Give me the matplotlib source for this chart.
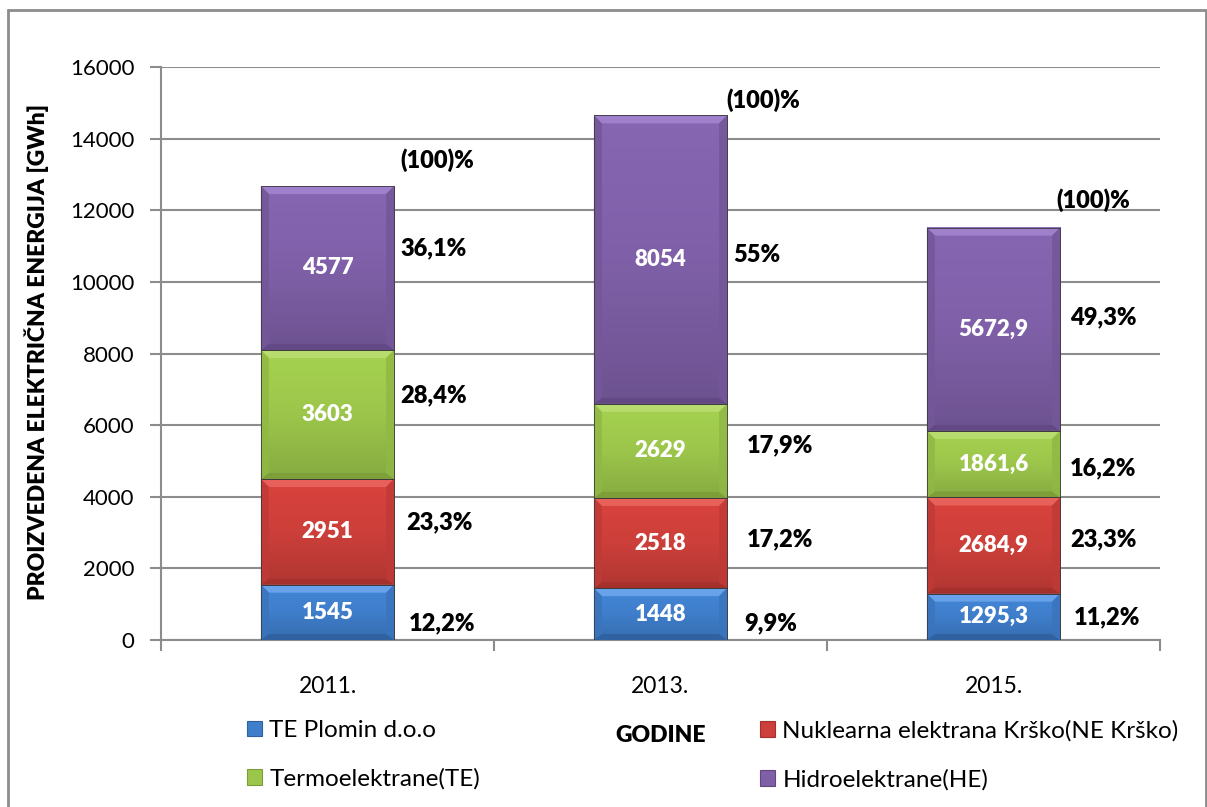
import matplotlib
matplotlib.use("Agg")
import matplotlib.pyplot as plt
from matplotlib.patches import Patch, Rectangle, Polygon
from matplotlib.colors import LinearSegmentedColormap, to_rgb
import numpy as np

plt.rcParams['font.family'] = ['Lato', 'DejaVu Sans']

# ---- data ----
years = ["2011.", "2013.", "2015."]
series_names = ["TE Plomin d.o.o", "Nuklearna elektrana Krško(NE Krško)",
                "Termoelektrane(TE)", "Hidroelektrane(HE)"]
te_plomin = [1545, 1448, 1295.3]
ne_krsko = [2951, 2518, 2684.9]
termo = [3603, 2629, 1861.6]
hidro = [4577, 8054, 5672.9]
value_labels = [["1545", "1448", "1295,3"],
                ["2951", "2518", "2684,9"],
                ["3603", "2629", "1861,6"],
                ["4577", "8054", "5672,9"]]
pct_labels = [["12,2%", "9,9%", "11,2%"],
              ["23,3%", "17,2%", "23,3%"],
              ["28,4%", "17,9%", "16,2%"],
              ["36,1%", "55%", "49,3%"]]
total_label = "(100)%"
yticks = [0, 2000, 4000, 6000, 8000, 10000, 12000, 14000, 16000]

# ---- styles ----
face = ["#3f7ecb", "#cd3f3a", "#9cc64b", "#7f60a8"]
top_c = ["#6ea8ee", "#ec6660", "#bcde74", "#a486d2"]
bot_c = ["#2f609f", "#a3302c", "#7c9c38", "#614883"]
side_c = ["#3a74bc", "#bf3a36", "#90b845", "#735799"]
BOLD = 800

# label layout (text placement only): x offset from bar centre (data units), y (data units)
pct_dx = [[0.345, 0.33, 0.34], [0.335, 0.36, 0.33], [0.32, 0.36, 0.33], [0.32, 0.29, 0.33]]
pct_y = [[470, 470, 620], [3300, 2800, 2800], [6820, 5450, 4800], [10950, 10750, 9020]]
tot_dx = [0.33, 0.31, 0.30]
tot_y = [13400, 15080, 12290]

W, H = 1207, 807
fig = plt.figure(figsize=(W / 100, H / 100), dpi=100)
ax = fig.add_axes([161 / W, 1 - 640 / H, (1160 - 161) / W, (640 - 67) / H])
ax.set_ylim(0, 16000)
ax.set_xlim(-0.5, 2.5)

x = np.arange(len(years))
width = 0.40
series = [te_plomin, ne_krsko, termo, hidro]
bottom = np.zeros(len(years))
bar_groups = []
for i, vals in enumerate(series):
    bars = ax.bar(x, vals, width, bottom=bottom, color=face[i], edgecolor="#3a3a3a",
                  linewidth=0.6, zorder=3, label=series_names[i])
    bar_groups.append(bars)
    bottom = bottom + np.array(vals)


def shade(c, f):
    r = np.array(to_rgb(c)) * f
    return tuple(np.clip(r, 0, 1))


# bevel + gradient decoration derived from each bar's geometry
px_x = (ax.get_xlim()[1] - ax.get_xlim()[0]) / (1160 - 161)
px_y = 16000 / (640 - 67)
bev_x = 8 * px_x
bev_t = 8 * px_y
bev_b = 6 * px_y
for i, bars in enumerate(bar_groups):
    cmap = LinearSegmentedColormap.from_list("g%d" % i, [shade(face[i], 0.86), face[i], shade(face[i], 1.06)])
    grad = np.linspace(0, 1, 64).reshape(-1, 1)
    for b in bars:
        x0, y0 = b.get_x(), b.get_y()
        x1, y1 = x0 + b.get_width(), y0 + b.get_height()
        ax.imshow(grad, cmap=cmap, extent=(x0, x1, y0, y1), origin="lower",
                  aspect="auto", zorder=3.2, interpolation="bilinear")
        polys = [
            ([(x0, y1), (x1, y1), (x1 - bev_x, y1 - bev_t), (x0 + bev_x, y1 - bev_t)], top_c[i]),
            ([(x0, y0), (x1, y0), (x1 - bev_x, y0 + bev_b), (x0 + bev_x, y0 + bev_b)], bot_c[i]),
            ([(x0, y0), (x0, y1), (x0 + bev_x, y1 - bev_t), (x0 + bev_x, y0 + bev_b)], side_c[i]),
            ([(x1, y0), (x1, y1), (x1 - bev_x, y1 - bev_t), (x1 - bev_x, y0 + bev_b)], side_c[i]),
        ]
        for pts, c in polys:
            ax.add_patch(Polygon(pts, closed=True, facecolor=c, edgecolor="none",
                                 alpha=0.85, zorder=3.5))
        ax.add_patch(Rectangle((x0, y0), x1 - x0, y1 - y0, facecolor="none",
                               edgecolor="#3a3a3a", linewidth=0.6, zorder=3.6))
ax.set_ylim(0, 16000)
ax.set_xlim(-0.5, 2.5)

# value labels inside bars
for i, bars in enumerate(bar_groups):
    for j, b in enumerate(bars):
        ax.text(b.get_x() + b.get_width() / 2, b.get_y() + b.get_height() / 2,
                value_labels[i][j], color="white", fontsize=16, fontweight=BOLD,
                ha="center", va="center", zorder=5)

# percent labels
for i in range(len(series)):
    for j in range(len(years)):
        ax.text(x[j] + pct_dx[i][j], pct_y[i][j], pct_labels[i][j], fontsize=17,
                fontweight=BOLD, ha="center", va="center", color="black", zorder=5)
for j in range(len(years)):
    ax.text(x[j] + tot_dx[j], tot_y[j], total_label, fontsize=17, fontweight=BOLD,
            ha="center", va="center", color="black", zorder=5)

grid_c = "#8c8c8c"
ax.set_yticks(yticks)
ax.set_yticklabels([str(t) for t in yticks], fontsize=16)
ax.set_xticks(x)
ax.set_xticklabels(years, fontsize=16.5)
ax.set_xticks([-0.5, 0.5, 1.5, 2.5], minor=True)
ax.tick_params(axis="x", which="major", length=0, pad=26)
ax.tick_params(axis="x", which="minor", length=8, color=grid_c, width=1.5, direction="out")
ax.tick_params(axis="y", length=8, color=grid_c, width=1.5, direction="out", pad=11)
ax.yaxis.grid(True, color=grid_c, linewidth=1.5, zorder=0)
ax.set_axisbelow(True)
for s in ["top", "right"]:
    ax.spines[s].set_visible(False)
for s in ["left", "bottom"]:
    ax.spines[s].set_color(grid_c)
    ax.spines[s].set_linewidth(1.5)

ylab = ax.set_ylabel("PROIZVEDENA ELEKTRIČNA ENERGIJA [GWh]", fontsize=16.5)
ylab.set_fontweight(BOLD)
ylab.set_va("center")
ax.yaxis.set_label_coords(-(161 - 37) / (1160 - 161), (640 - 352) / 573)
xlab = ax.set_xlabel("GODINE", fontsize=16.5)
xlab.set_fontweight(BOLD)
ax.xaxis.set_label_coords(0.5, -(735 - 640) / 573)
xlab.set_va("center")

# legend (two columns placed separately)
handles = [Patch(facecolor=face[i], edgecolor=bot_c[i], linewidth=0.8) for i in range(4)]
leg_kw = dict(frameon=False, fontsize=17.5, handlelength=0.62, handleheight=0.62,
              handletextpad=0.3, labelspacing=1.12, borderpad=0, borderaxespad=0)
l1 = fig.legend([handles[0], handles[2]], [series_names[0], series_names[2]],
                loc="upper left", bbox_to_anchor=(247 / W, 1 - 720 / H), **leg_kw)
l2 = fig.legend([handles[1], handles[3]], [series_names[1], series_names[3]],
                loc="upper left", bbox_to_anchor=(760 / W, 1 - 720 / H), **leg_kw)

# outer frame
fig.patches.append(Rectangle((8 / W, -0.02), (1206 - 8) / W, 1.02 - 10 / H,
                             transform=fig.transFigure, fill=False,
                             edgecolor=grid_c, linewidth=2))

fig.savefig("out.png", dpi=100)
